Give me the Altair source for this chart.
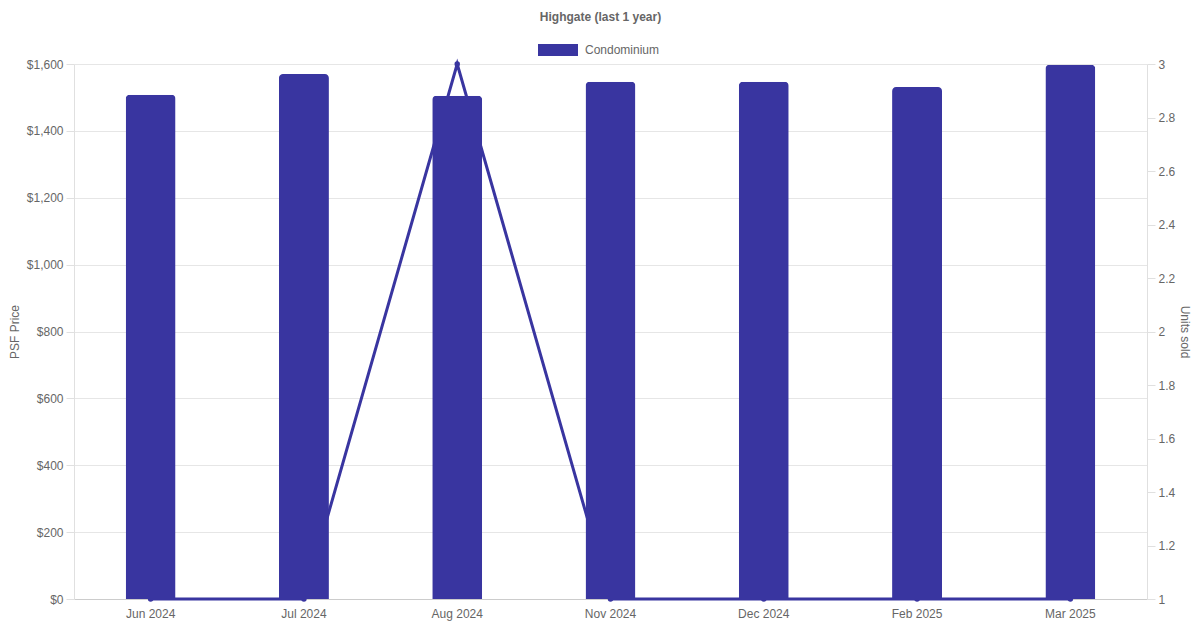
import altair as alt
import pandas as pd

months = ["Jun 2024", "Jul 2024", "Aug 2024", "Nov 2024", "Dec 2024", "Feb 2025", "Mar 2025"]
psf = [1508, 1570, 1505, 1547, 1547, 1531, 1598]
units = [1, 1, 3, 1, 1, 1, 1]
ptype = ["Condominium"] * 7

df = pd.DataFrame({"month": months, "psf": psf, "units": units, "type": ptype})

COLOR = "#3935a0"
FONT = "Liberation Sans"
GREY = "#666666"

xenc = alt.X(
    "month:N", sort=months, title=None,
    scale=alt.Scale(paddingInner=0.674, paddingOuter=0.337),
    axis=alt.Axis(labelAngle=0, ticks=False, grid=False, labelPadding=9,
                  domainColor="#cccccc", labelColor=GREY, labelFontSize=12, labelFont=FONT),
)

line = alt.Chart(df).mark_line(
    color=COLOR, strokeWidth=3,
    point=alt.OverlayMarkDef(color=COLOR, size=30, filled=True, opacity=1),
).encode(
    x=xenc,
    y=alt.Y("units:Q",
            scale=alt.Scale(domain=[1, 3], nice=False, zero=False),
            axis=alt.Axis(orient="right", title="Units sold",
                          values=[1, 1.2, 1.4, 1.6, 1.8, 2, 2.2, 2.4, 2.6, 2.8, 3],
                          format="~g", grid=False, tickSize=8, labelPadding=3,
                          tickColor="#e0e0e0", domainColor="#e0e0e0",
                          labelColor=GREY, labelFontSize=12, labelFont=FONT,
                          titleColor=GREY, titleFontSize=12, titleFont=FONT,
                          titleFontWeight="normal", titlePadding=3)),
)

bars = alt.Chart(df).mark_bar(cornerRadiusTopLeft=4, cornerRadiusTopRight=4).encode(
    x=xenc,
    y=alt.Y("psf:Q",
            scale=alt.Scale(domain=[0, 1600], nice=False),
            axis=alt.Axis(orient="left", title="PSF Price",
                          values=list(range(0, 1601, 200)), format="$,.0f",
                          grid=True, gridColor="#e6e6e6", tickSize=8, labelPadding=3,
                          tickColor="#e0e0e0", domainColor="#e0e0e0",
                          labelColor=GREY, labelFontSize=12, labelFont=FONT,
                          titleColor=GREY, titleFontSize=12, titleFont=FONT,
                          titleFontWeight="normal", titlePadding=5)),
    color=alt.Color("type:N",
                    scale=alt.Scale(domain=["Condominium"], range=[COLOR]),
                    legend=alt.Legend(title=None, orient="none", legendX=464, legendY=-34,
                                      symbolType="M-1,-0.3H1V0.3H-1Z", symbolSize=1600,
                                      symbolStrokeWidth=0, symbolOpacity=1,
                                      labelFontSize=12, labelColor=GREY, labelFont=FONT,
                                      labelOffset=7, direction="horizontal")),
)

chart = alt.layer(line, bars).resolve_scale(y="independent").properties(
    width=1073, height=535,
    padding={"left": 66, "top": 56, "right": 45, "bottom": 23},
    autosize=alt.AutoSizeParams(type="none"),
    title=alt.TitleParams("Highgate (last 1 year)", fontSize=12, fontWeight="bold",
                          color=GREY, font=FONT, anchor="middle", frame="group",
                          dx=-10, offset=6),
).configure_view(stroke=None)

chart.save("out.html", embed_options={"renderer": "svg", "actions": False})
